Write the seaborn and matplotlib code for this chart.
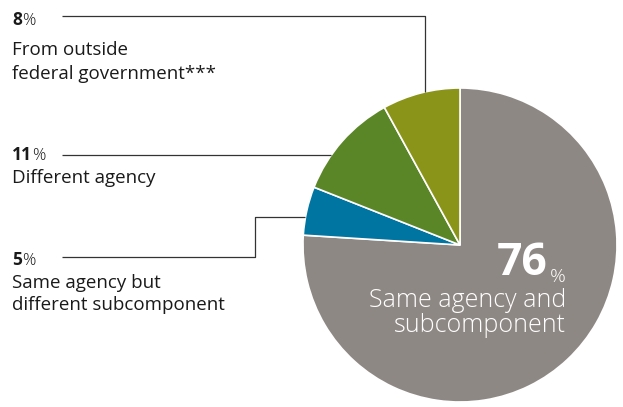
import matplotlib
matplotlib.use("Agg")
import matplotlib.pyplot as plt
import seaborn as sns

# Where new hires came from
categories = ["Same agency and subcomponent", "Same agency but different subcomponent",
              "Different agency", "From outside federal government***"]
shares = [76, 5, 11, 8]
colors = ["#8E8884", "#0075A2", "#5B8628", "#8A9419"]

sns.set_theme(style="white")
plt.rcParams["font.family"] = ["Open Sans", "DejaVu Sans"]

W, H = 623, 407
fig = plt.figure(figsize=(W / 100, H / 100), dpi=100)
ax = fig.add_axes([0, 0, 1, 1])


def Y(py):
    return H - py


cx, cy, r = 460, 245, 157
ax.pie(shares, colors=colors, startangle=90, counterclock=False,
       center=(cx, Y(cy)), radius=r, frame=True,
       wedgeprops=dict(edgecolor="white", linewidth=1.2))
ax.set_xlim(0, W)
ax.set_ylim(0, H)
ax.set_aspect("equal")
ax.axis("off")

line_kw = dict(color="#333333", lw=0.9, solid_capstyle="butt")
# leader lines from the labels to the slices
ax.plot([62, 425, 425], [Y(16), Y(16), Y(92)], **line_kw)
ax.plot([62, 331], [Y(155), Y(155)], **line_kw)
ax.plot([62, 255, 255, 305], [Y(257), Y(257), Y(217), Y(217)], **line_kw)


def value_label(x, y, val, size, pct_size, color, gap=0.3, ha="left"):
    num = ax.text(x, y, f"{val}", fontsize=size, fontweight="bold", color=color,
                  ha=ha, va="baseline")
    ax.annotate("%", xy=(1, 0), xycoords=num, xytext=(gap, 0),
                textcoords="offset points", fontsize=pct_size, color=color,
                fontweight="light", ha="left", va="bottom")
    return num


txt = "#1a1a1a"
labels = [
    (shares[3], ["From outside", "federal government***"], 25, [55, 79]),
    (shares[2], ["Different agency"], 160, [183]),
    (shares[1], ["Same agency but", "different subcomponent"], 265, [288, 310]),
]
for val, lines, pyn, pys in labels:
    value_label(12, Y(pyn), val, 12.5, 12, txt)
    for s, py in zip(lines, pys):
        ax.text(12, Y(py), s, fontsize=13.5, color=txt, ha="left", va="baseline")

# main slice label
value_label(548, Y(275), shares[0], 32, 14, "white", gap=1, ha="right")
ax.text(566, Y(307), "Same agency and", fontsize=18, fontweight="light",
        color="white", ha="right", va="baseline")
ax.text(566, Y(332), "subcomponent", fontsize=18, fontweight="light",
        color="white", ha="right", va="baseline")

fig.savefig("out.png", dpi=100)
